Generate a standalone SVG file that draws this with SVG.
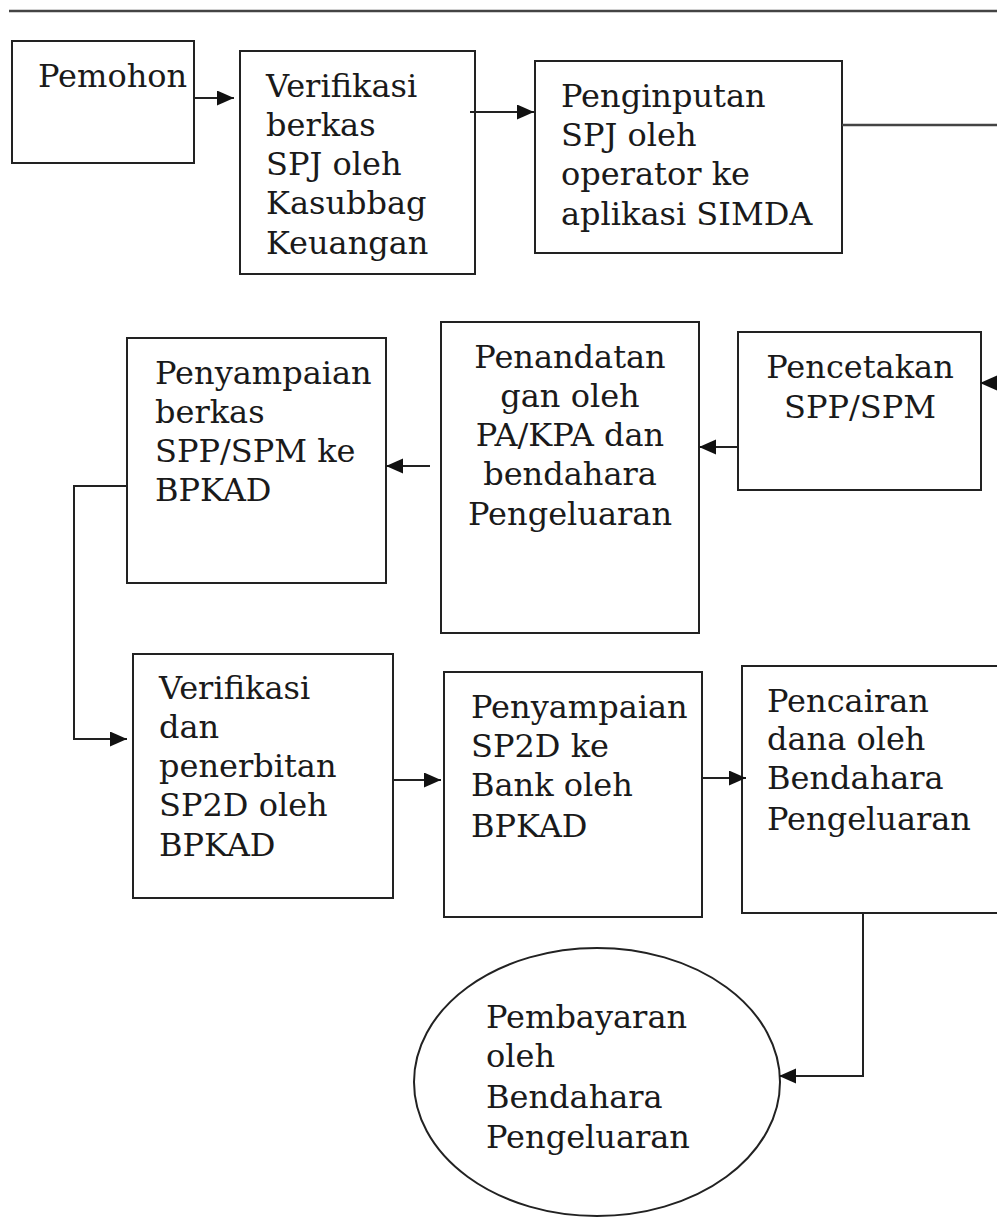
<svg xmlns="http://www.w3.org/2000/svg" width="997" height="1217" viewBox="0 0 997 1217">
<style>
.box{fill:#fff;stroke:#222;stroke-width:2}
.ln{fill:none;stroke:#222;stroke-width:2}
.gl{fill:none;stroke:#444;stroke-width:2.5}
text{font-family:"DejaVu Serif",serif;font-size:32px;fill:#1a1a1a}
.c{text-anchor:middle}
</style>
<defs>
<marker id="ah" markerUnits="userSpaceOnUse" markerWidth="18" markerHeight="16" refX="17" refY="7.5" orient="auto">
<path d="M0,0 L17,7.5 L0,15 Z" fill="#111"/>
</marker>
</defs>
<line class="gl" x1="9" y1="11" x2="997" y2="11"/>
<g id="pemohon">
<rect class="box" x="12" y="41" width="182" height="122"/>
<text x="38" y="87">Pemohon</text>
</g>
<g id="verifikasi-berkas">
<rect class="box" x="240" y="51" width="235" height="223"/>
<text x="266" y="97">Verifikasi</text>
<text x="266" y="136">berkas</text>
<text x="266" y="175">SPJ oleh</text>
<text x="266" y="214">Kasubbag</text>
<text x="266" y="254">Keuangan</text>
</g>
<g id="penginputan">
<rect class="box" x="535" y="61" width="307" height="192"/>
<text x="561" y="107">Penginputan</text>
<text x="561" y="146">SPJ oleh</text>
<text x="561" y="185">operator ke</text>
<text x="561" y="225">aplikasi SIMDA</text>
</g>
<g id="penyampaian-berkas">
<rect class="box" x="127" y="338" width="259" height="245"/>
<text x="155" y="384">Penyampaian</text>
<text x="155" y="423">berkas</text>
<text x="155" y="462">SPP/SPM ke</text>
<text x="155" y="501">BPKAD</text>
</g>
<g id="penandatanganan">
<rect class="box" x="441" y="322" width="258" height="311"/>
<text class="c" x="570" y="368">Penandatan</text>
<text class="c" x="570" y="407">gan oleh</text>
<text class="c" x="570" y="446">PA/KPA dan</text>
<text class="c" x="570" y="485">bendahara</text>
<text class="c" x="570" y="525">Pengeluaran</text>
</g>
<g id="pencetakan">
<rect class="box" x="738" y="332" width="243" height="158"/>
<text class="c" x="860" y="378">Pencetakan</text>
<text class="c" x="860" y="418">SPP/SPM</text>
</g>
<g id="verifikasi-sp2d">
<rect class="box" x="133" y="654" width="260" height="244"/>
<text x="159" y="699">Verifikasi</text>
<text x="159" y="738">dan</text>
<text x="159" y="777">penerbitan</text>
<text x="159" y="816">SP2D oleh</text>
<text x="159" y="856">BPKAD</text>
</g>
<g id="penyampaian-sp2d">
<rect class="box" x="444" y="672" width="258" height="245"/>
<text x="471" y="718">Penyampaian</text>
<text x="471" y="757">SP2D ke</text>
<text x="471" y="796">Bank oleh</text>
<text x="471" y="837">BPKAD</text>
</g>
<g id="pencairan">
<rect class="box" x="742" y="666" width="270" height="247"/>
<text x="767" y="712">Pencairan</text>
<text x="767" y="750">dana oleh</text>
<text x="767" y="789">Bendahara</text>
<text x="767" y="830">Pengeluaran</text>
</g>
<g id="pembayaran">
<ellipse class="box" cx="597" cy="1082" rx="183" ry="134" stroke-width="1.5"/>
<text x="486" y="1028">Pembayaran</text>
<text x="486" y="1067">oleh</text>
<text x="486" y="1108">Bendahara</text>
<text x="486" y="1148">Pengeluaran</text>
</g>
<g id="connectors">
<line class="ln" x1="194" y1="98" x2="234" y2="98" marker-end="url(#ah)"/>
<line class="ln" x1="470" y1="112" x2="534" y2="112" marker-end="url(#ah)"/>
<line class="gl" x1="842" y1="125" x2="997" y2="125"/>
<line class="ln" x1="999" y1="383" x2="980" y2="383" marker-end="url(#ah)"/>
<line class="ln" x1="738" y1="447" x2="699" y2="447" marker-end="url(#ah)"/>
<line class="ln" x1="430" y1="466" x2="386" y2="466" marker-end="url(#ah)"/>
<polyline class="ln" points="127,486 74,486 74,739 127,739" marker-end="url(#ah)"/>
<line class="ln" x1="393" y1="780" x2="441" y2="780" marker-end="url(#ah)"/>
<line class="ln" x1="702" y1="778" x2="746" y2="778" marker-end="url(#ah)"/>
<polyline class="ln" points="863,913 863,1076 779,1076" marker-end="url(#ah)"/>
</g>
</svg>
